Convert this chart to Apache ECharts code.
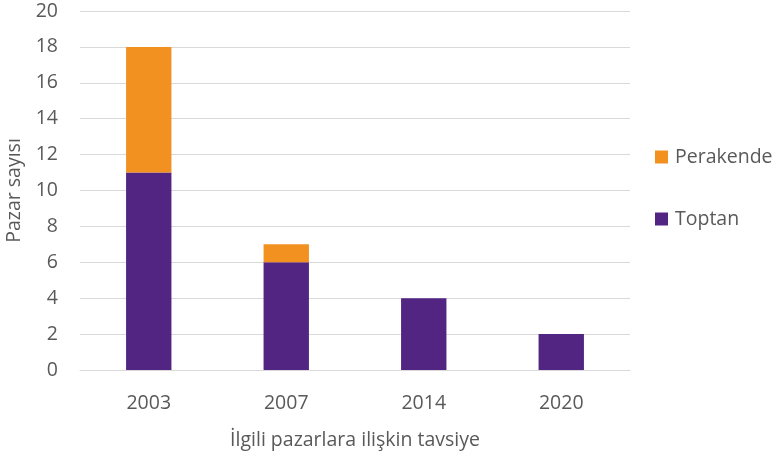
<!DOCTYPE html>
<html>
<head>
<meta charset="utf-8">
<script src="https://cdn.jsdelivr.net/npm/echarts@6/dist/echarts.min.js"></script>
<style>
  html, body { margin: 0; padding: 0; background: #fff; }
  #chart { width: 773px; height: 454px; }
</style>
</head>
<body>
<div id="chart"></div>
<script>
// data
const years = ['2003', '2007', '2014', '2020'];
const toptan = [11, 6, 4, 2];
const perakende = [7, 1, 0, 0];

const textColor = '#595959';
const font = '"Open Sans", "Noto Sans", sans-serif';

const chart = echarts.init(document.getElementById('chart'));

chart.setOption({
  animation: false,
  textStyle: { fontFamily: font },
  grid: { left: 80, right: 143, top: 11, bottom: 84, outerBoundsMode: 'none', containLabel: false },
  legend: {
    orient: 'vertical',
    left: 650,
    top: 142,
    itemWidth: 13,
    itemHeight: 13,
    itemGap: 42,
    icon: 'rect',
    data: ['Perakende', 'Toptan'],
    textStyle: { color: textColor, fontSize: 19.5, fontFamily: font, padding: [0, 0, 0, 2] }
  },
  xAxis: {
    type: 'category',
    data: years,
    name: 'İlgili pazarlara ilişkin tavsiye',
    nameLocation: 'middle',
    nameGap: 60,
    nameTextStyle: { color: textColor, fontSize: 19.5, fontFamily: font },
    axisLine: { lineStyle: { color: '#d9d9d9' } },
    axisTick: { show: false },
    axisLabel: { color: textColor, fontSize: 19.5, margin: 23 }
  },
  yAxis: {
    type: 'value',
    min: 0,
    max: 20,
    interval: 2,
    name: 'Pazar sayısı',
    nameLocation: 'middle',
    nameGap: 54,
    nameTextStyle: { color: textColor, fontSize: 19.5, fontFamily: font },
    axisLine: { show: false },
    axisTick: { show: false },
    axisLabel: { color: textColor, fontSize: 19.5, margin: 22 },
    splitLine: { lineStyle: { color: '#d9d9d9' } }
  },
  series: [
    {
      name: 'Toptan',
      type: 'bar',
      stack: 'total',
      barWidth: '33%',
      data: toptan,
      itemStyle: { color: '#522583' }
    },
    {
      name: 'Perakende',
      type: 'bar',
      stack: 'total',
      data: perakende,
      itemStyle: { color: '#f39120' }
    }
  ]
});
</script>
</body>
</html>
